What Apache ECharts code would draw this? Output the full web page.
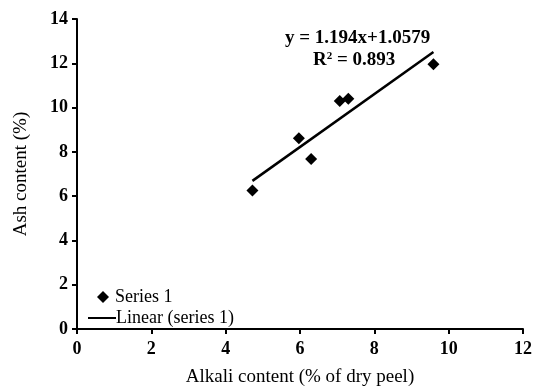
<!DOCTYPE html>
<html><head><meta charset="utf-8">
<script src="https://cdn.jsdelivr.net/npm/echarts@6/dist/echarts.min.js"></script>
<style>html,body{margin:0;padding:0;background:#fff}#c{width:535px;height:392px}</style>
</head><body><div id="c"></div>
<script>
const alkali = [4.72, 5.97, 6.30, 7.07, 7.30, 9.59];
const ash = [6.25, 8.62, 7.68, 10.30, 10.40, 11.96];
const trendX = [4.72, 9.59];
const trendY = [6.69, 12.51];
const xTicks = [0, 2, 4, 6, 8, 10, 12];
const yTicks = [0, 2, 4, 6, 8, 10, 12, 14];
const eqLine1 = 'y = 1.194x+1.0579';
const eqLine2 = 'R';
const eqLine2b = ' = 0.893';

const font = 'Liberation Serif';
const chart = echarts.init(document.getElementById('c'));
chart.setOption({
  animation: false,
  backgroundColor: '#fff',
  textStyle: { fontFamily: font, color: '#000' },
  grid: { left: 77, right: 8, top: 19, bottom: 59 },
  xAxis: {
    type: 'value', min: xTicks[0], max: xTicks[xTicks.length - 1], interval: 2,
    name: 'Alkali content (% of dry peel)', nameLocation: 'middle', nameGap: 39,
    nameTextStyle: { fontFamily: font, fontSize: 19, color: '#000' },
    axisLine: { lineStyle: { color: '#000', width: 2 } },
    axisTick: { show: true, length: 5, lineStyle: { color: '#000', width: 2 } },
    axisLabel: { fontFamily: font, fontSize: 18, fontWeight: 'bold', color: '#000', margin: 11 },
    splitLine: { show: false }
  },
  yAxis: {
    type: 'value', min: yTicks[0], max: yTicks[yTicks.length - 1], interval: 2,
    name: 'Ash content (%)', nameLocation: 'middle', nameGap: 46, nameRotate: 90,
    nameTextStyle: { fontFamily: font, fontSize: 19, color: '#000' },
    axisLine: { show: true, lineStyle: { color: '#000', width: 2 } },
    axisTick: { show: true, length: 5, lineStyle: { color: '#000', width: 2 } },
    axisLabel: { fontFamily: font, fontSize: 18, fontWeight: 'bold', color: '#000', margin: 9 },
    splitLine: { show: false }
  },
  legend: [
    {
      left: 92, top: 283, orient: 'vertical', itemWidth: 12, itemHeight: 12,
      textStyle: { fontFamily: font, fontSize: 18, color: '#000', padding: [0, 0, 0, 1] },
      data: [{ name: 'Series 1', icon: 'diamond' }]
    },
    {
      left: 83, top: 304, orient: 'vertical', itemWidth: 28, itemHeight: 2,
      textStyle: { fontFamily: font, fontSize: 18, color: '#000', padding: [0, 0, 0, -5] },
      data: [{ name: 'Linear (series 1)', icon: 'rect' }]
    }
  ],
  series: [
    {
      name: 'Series 1', type: 'scatter', symbol: 'diamond', symbolSize: 12,
      itemStyle: { color: '#000', opacity: 1 },
      data: alkali.map((x, i) => [x, ash[i]])
    },
    {
      name: 'Linear (series 1)', type: 'line', symbol: 'none', showSymbol: false,
      lineStyle: { color: '#000', width: 2.5 }, itemStyle: { color: '#000' },
      data: trendX.map((x, i) => [x, trendY[i]])
    }
  ],
  graphic: [
    { type: 'text', left: 285, top: 29, style: { text: eqLine1, font: 'bold 19px "Liberation Serif"', fill: '#000' } },
    { type: 'text', left: 313, top: 51, style: {
      text: '{a|' + eqLine2 + '}{b|2}{a|' + eqLine2b + '}',
      rich: { a: { font: 'bold 19px "Liberation Serif"', color: '#000', verticalAlign: 'bottom' },
              b: { font: 'bold 11px "Liberation Serif"', color: '#000', verticalAlign: 'top', padding: [0, 0, 8, 0] } } } }
  ]
});
</script></body></html>
